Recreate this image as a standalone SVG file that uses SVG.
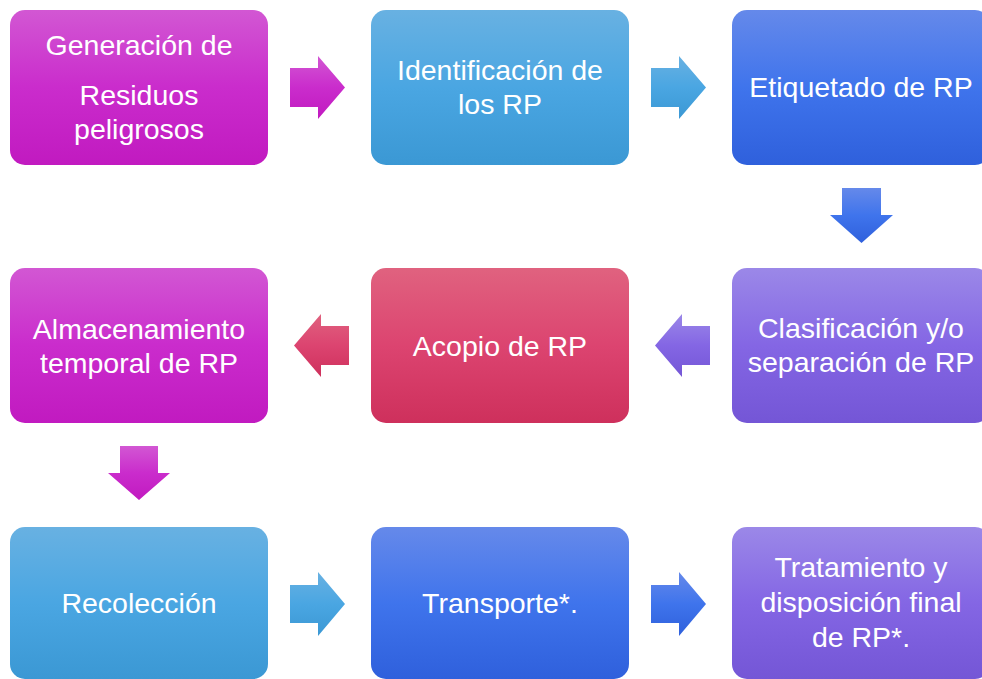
<svg xmlns="http://www.w3.org/2000/svg" width="982" height="679" viewBox="0 0 982 679">
<defs>
<linearGradient id="gM" x1="0" y1="0" x2="0" y2="1"><stop offset="0" stop-color="#d257d3"/><stop offset="0.5" stop-color="#ca2ccc"/><stop offset="1" stop-color="#c11ac0"/></linearGradient>
<linearGradient id="gL" x1="0" y1="0" x2="0" y2="1"><stop offset="0" stop-color="#68b1e2"/><stop offset="0.5" stop-color="#4aa6e2"/><stop offset="1" stop-color="#3b98d4"/></linearGradient>
<linearGradient id="gB" x1="0" y1="0" x2="0" y2="1"><stop offset="0" stop-color="#6589ea"/><stop offset="0.5" stop-color="#3f74ec"/><stop offset="1" stop-color="#2f60dc"/></linearGradient>
<linearGradient id="gP" x1="0" y1="0" x2="0" y2="1"><stop offset="0" stop-color="#9b88e8"/><stop offset="0.5" stop-color="#8466e4"/><stop offset="1" stop-color="#7456d6"/></linearGradient>
<linearGradient id="gR" x1="0" y1="0" x2="0" y2="1"><stop offset="0" stop-color="#e0627f"/><stop offset="0.5" stop-color="#dc4470"/><stop offset="1" stop-color="#ce305c"/></linearGradient>
</defs>
<style>
.box{rx:15;ry:15}
.t{font-family:"Liberation Sans",Arial,sans-serif;font-size:28.5px;fill:#ffffff;text-anchor:middle}
</style>
<rect width="982" height="679" fill="#ffffff"/>
<g id="n1"><rect class="box" x="10" y="10" width="258" height="155" fill="url(#gM)"/><text class="t" x="139" y="55">Generación de</text><text class="t" x="139" y="105">Residuos</text><text class="t" x="139" y="139">peligrosos</text></g>
<g id="n2"><rect class="box" x="371" y="10" width="258" height="155" fill="url(#gL)"/><text class="t" x="500" y="80">Identificación de</text><text class="t" x="500" y="114">los RP</text></g>
<g id="n3"><rect class="box" x="732" y="10" width="258" height="155" fill="url(#gB)"/><text class="t" x="861" y="97">Etiquetado de RP</text></g>
<g id="n4"><rect class="box" x="732" y="268" width="258" height="155" fill="url(#gP)"/><text class="t" x="861" y="338">Clasificación y/o</text><text class="t" x="861" y="372">separación de RP</text></g>
<g id="n5"><rect class="box" x="371" y="268" width="258" height="155" fill="url(#gR)"/><text class="t" x="500" y="356">Acopio de RP</text></g>
<g id="n6"><rect class="box" x="10" y="268" width="258" height="155" fill="url(#gM)"/><text class="t" x="139" y="339">Almacenamiento</text><text class="t" x="139" y="373">temporal de RP</text></g>
<g id="n7"><rect class="box" x="10" y="527" width="258" height="152" fill="url(#gL)"/><text class="t" x="139" y="613">Recolección</text></g>
<g id="n8"><rect class="box" x="371" y="527" width="258" height="152" fill="url(#gB)"/><text class="t" x="500" y="613">Transporte*.</text></g>
<g id="n9"><rect class="box" x="732" y="527" width="258" height="152" fill="url(#gP)"/><text class="t" x="861" y="577">Tratamiento y</text><text class="t" x="861" y="612">disposición final</text><text class="t" x="861" y="647">de RP*.</text></g>
<g id="connectors">
<polygon points="290,68 318,68 318,56 345,87.5 318,119 318,107 290,107" fill="url(#gM)"/>
<polygon points="651,68 679,68 679,56 706,87.5 679,119 679,107 651,107" fill="url(#gL)"/>
<polygon points="842,188 881,188 881,215 893,215 861.5,243 830,215 842,215" fill="url(#gB)"/>
<polygon points="710,326 682,326 682,314 655,345.5 682,377 682,365 710,365" fill="url(#gP)"/>
<polygon points="349,326 321,326 321,314 294,345.5 321,377 321,365 349,365" fill="url(#gR)"/>
<polygon points="120,446 158,446 158,473 170,473 139,500 108,473 120,473" fill="url(#gM)"/>
<polygon points="290,585 318,585 318,572 345,604 318,636 318,623 290,623" fill="url(#gL)"/>
<polygon points="651,585 679,585 679,572 706,604 679,636 679,623 651,623" fill="url(#gB)"/>
</g>
</svg>
